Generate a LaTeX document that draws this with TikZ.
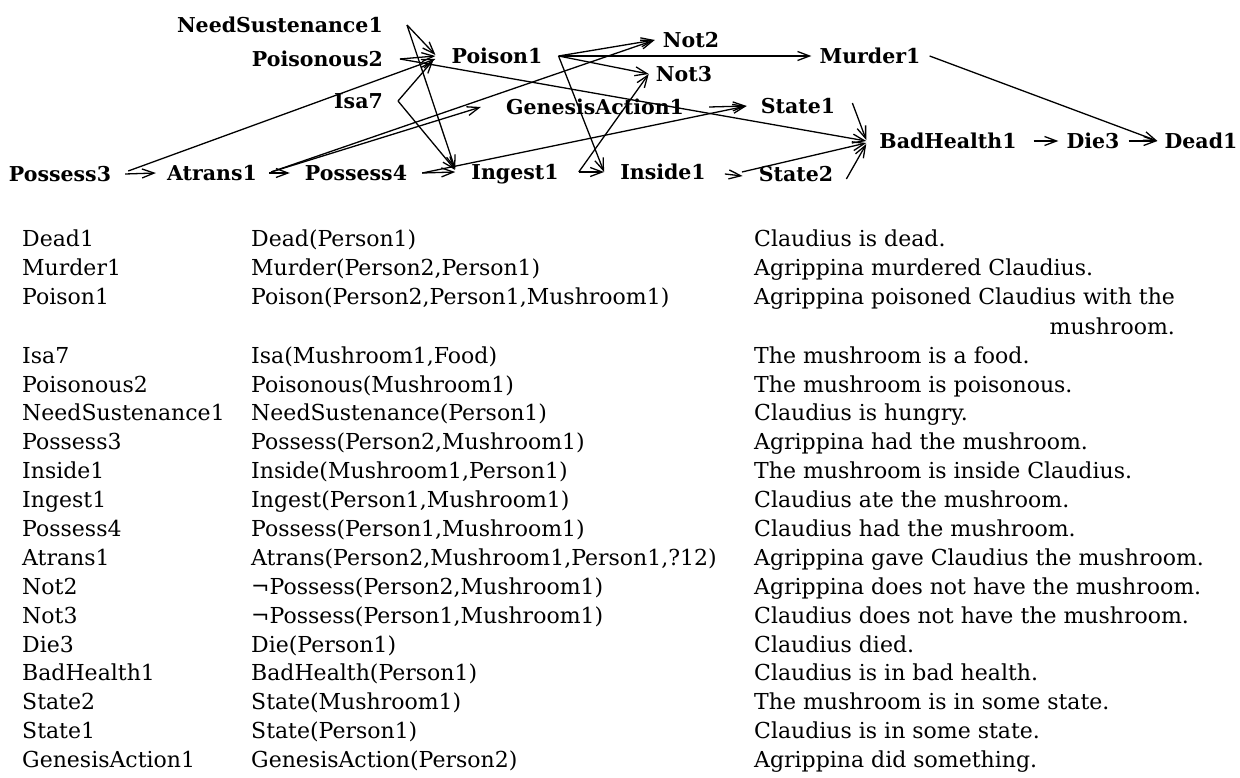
\documentclass[tikz,border=0pt]{standalone}
\usepackage{fontspec}
\setmainfont{DejaVu Serif}
\usetikzlibrary{arrows.meta}
\begin{document}
\begin{tikzpicture}[x=1pt,y=-1pt,
  lbl/.style={font=\fontsize{20.5}{24}\selectfont\bfseries, inner sep=0pt,
    text height=15pt, text depth=0pt},
  cell/.style={font=\fontsize{22}{26}\selectfont, inner sep=0pt, anchor=base west},
  arr/.style={-{Straight Barb[length=12pt,width=9pt]}, line width=1.3pt}
]
\useasboundingbox (0,0) rectangle (1240,778);

% ---- network of propositions ----
\node[lbl, anchor=east] (NS)  at (383,25)  {NeedSustenance1};
\node[lbl, anchor=east] (P2)  at (383,59)  {Poisonous2};
\node[lbl, anchor=east] (Isa) at (383,101) {Isa7};
\node[lbl] (Poi)  at (497,56)  {Poison1};
\node[lbl] (N2)   at (691,40)  {Not2};
\node[lbl] (N3)   at (684,74)  {Not3};
\node[lbl] (Mur)  at (870,56)  {Murder1};
\node[lbl] (GA)   at (595,107) {GenesisAction1};
\node[lbl] (S1)   at (798,106) {State1};
\node[lbl] (BH)   at (948,141) {BadHealth1};
\node[lbl] (Die)  at (1093,141) {Die3};
\node[lbl] (Dead) at (1201,141) {Dead1};
\node[lbl] (Ps3)  at (60,174)  {Possess3};
\node[lbl] (At)   at (212,173) {Atrans1};
\node[lbl] (Ps4)  at (356,173) {Possess4};
\node[lbl] (Ing)  at (515,172) {Ingest1};
\node[lbl] (Ins)  at (663,172) {Inside1};
\node[lbl] (S2)   at (796,174) {State2};

% connectors: each leaves to the right of its source label and ends left of its target
\draw[arr] ([xshift=24pt]NS.east) -- ([xshift=-16pt,yshift=1pt]Poi.west);
\draw[arr] ([xshift=24pt]NS.east) -- ([xshift=-16pt,yshift=3pt]Ing.west);
\draw[arr] ([xshift=17pt]P2.east) -- ([xshift=-16pt]Poi.west);
\draw[arr] ([xshift=17pt]P2.east) -- ([xshift=-13pt]BH.west);
\draw[arr] ([xshift=15pt]Isa.east) -- ([xshift=-18pt,yshift=-4pt]Poi.west);
\draw[arr] ([xshift=15pt]Isa.east) -- ([xshift=-16pt,yshift=2pt]Ing.west);
\draw[arr] ([xshift=14pt]Ps3.east) -- ([xshift=-11pt]At.west);
\draw[arr] ([xshift=17pt,yshift=3pt]Ps3.east) -- ([xshift=-16pt,yshift=-3pt]Poi.west);
\draw[arr] ([xshift=12pt]At.east) -- ([xshift=-15pt]Ps4.west);
\draw[arr] ([xshift=14pt,yshift=1pt]At.east) -- ([xshift=-25pt]GA.west);
\draw[arr] ([xshift=14pt,yshift=1pt]At.east) -- ([xshift=-8pt]N2.west);
\draw[arr] ([xshift=15pt]Ps4.east) -- ([xshift=-16pt]Ing.west);
\draw[arr] ([xshift=15pt]Ps4.east) -- ([xshift=-14pt]S1.west);
\draw[arr] ([xshift=16pt]Poi.east) -- ([xshift=-8pt]N2.west);
\draw[arr] ([xshift=16pt]Poi.east) -- ([xshift=-7pt]N3.west);
\draw[arr] ([xshift=16pt]Poi.east) -- ([xshift=-8pt]Mur.west);
\draw[arr] ([xshift=16pt]Poi.east) -- ([xshift=-16pt]Ins.west);
\draw[arr] ([xshift=20pt]Ing.east) -- ([xshift=-7pt]N3.west);
\draw[arr] ([xshift=20pt]Ing.east) -- ([xshift=-16pt]Ins.west);
\draw[arr] ([xshift=25pt]GA.east) -- ([xshift=-14pt]S1.west);
\draw[arr] ([xshift=19pt,yshift=-2pt]Ins.east) -- ([xshift=-16pt,yshift=-2pt]S2.west);
\draw[arr] ([xshift=36pt]Ins.east) -- ([xshift=-13pt,yshift=-2pt]BH.west);
\draw[arr] ([xshift=17pt,yshift=3pt]S1.east) -- ([xshift=-13pt,yshift=1pt]BH.west);
\draw[arr] ([xshift=13pt,yshift=-5pt]S2.east) -- ([xshift=-13pt,yshift=-3pt]BH.west);
\draw[arr] ([xshift=17pt]BH.east) -- ([xshift=-8pt]Die.west);
\draw[arr] ([xshift=9pt]Die.east) -- ([xshift=-7pt]Dead.west);
\draw[arr] ([xshift=9pt]Mur.east) -- ([xshift=-7pt]Dead.west);

% ---- table: name, proposition, English gloss ----
\node[cell] (a0)  at (22,247) {Dead1};
\node[cell] (b0)  at (251,247) {Dead(Person1)};
\node[cell] (c0)  at (754,247) {Claudius is dead.};
\node[cell] (a1)  at (22,276) {Murder1};
\node[cell] (b1)  at (251,276) {Murder(Person2,Person1)};
\node[cell] (c1)  at (754,276) {Agrippina murdered Claudius.};
\node[cell] (a2)  at (22,305) {Poison1};
\node[cell] (b2)  at (251,305) {Poison(Person2,Person1,Mushroom1)};
\node[cell] (c2)  at (754,305) {Agrippina poisoned Claudius with the};
\node[cell, anchor=base east] (c3) at (c2.base east |- 0,334) {mushroom.};
\node[cell] (a4)  at (22,363) {Isa7};
\node[cell] (b4)  at (251,363) {Isa(Mushroom1,Food)};
\node[cell] (c4)  at (754,363) {The mushroom is a food.};
\node[cell] (a5)  at (22,392) {Poisonous2};
\node[cell] (b5)  at (251,392) {Poisonous(Mushroom1)};
\node[cell] (c5)  at (754,392) {The mushroom is poisonous.};
\node[cell] (a6)  at (22,420) {NeedSustenance1};
\node[cell] (b6)  at (251,420) {NeedSustenance(Person1)};
\node[cell] (c6)  at (754,420) {Claudius is hungry.};
\node[cell] (a7)  at (22,449) {Possess3};
\node[cell] (b7)  at (251,449) {Possess(Person2,Mushroom1)};
\node[cell] (c7)  at (754,449) {Agrippina had the mushroom.};
\node[cell] (a8)  at (22,478) {Inside1};
\node[cell] (b8)  at (251,478) {Inside(Mushroom1,Person1)};
\node[cell] (c8)  at (754,478) {The mushroom is inside Claudius.};
\node[cell] (a9)  at (22,507) {Ingest1};
\node[cell] (b9)  at (251,507) {Ingest(Person1,Mushroom1)};
\node[cell] (c9)  at (754,507) {Claudius ate the mushroom.};
\node[cell] (a10) at (22,536) {Possess4};
\node[cell] (b10) at (251,536) {Possess(Person1,Mushroom1)};
\node[cell] (c10) at (754,536) {Claudius had the mushroom.};
\node[cell] (a11) at (22,565) {Atrans1};
\node[cell] (b11) at (251,565) {Atrans(Person2,Mushroom1,Person1,?12)};
\node[cell] (c11) at (754,565) {Agrippina gave Claudius the mushroom.};
\node[cell] (a12) at (22,594) {Not2};
\node[cell] (b12) at (251,594) {¬Possess(Person2,Mushroom1)};
\node[cell] (c12) at (754,594) {Agrippina does not have the mushroom.};
\node[cell] (a13) at (22,623) {Not3};
\node[cell] (b13) at (251,623) {¬Possess(Person1,Mushroom1)};
\node[cell] (c13) at (754,623) {Claudius does not have the mushroom.};
\node[cell] (a14) at (22,652) {Die3};
\node[cell] (b14) at (251,652) {Die(Person1)};
\node[cell] (c14) at (754,652) {Claudius died.};
\node[cell] (a15) at (22,680) {BadHealth1};
\node[cell] (b15) at (251,680) {BadHealth(Person1)};
\node[cell] (c15) at (754,680) {Claudius is in bad health.};
\node[cell] (a16) at (22,709) {State2};
\node[cell] (b16) at (251,709) {State(Mushroom1)};
\node[cell] (c16) at (754,709) {The mushroom is in some state.};
\node[cell] (a17) at (22,738) {State1};
\node[cell] (b17) at (251,738) {State(Person1)};
\node[cell] (c17) at (754,738) {Claudius is in some state.};
\node[cell] (a18) at (22,767) {GenesisAction1};
\node[cell] (b18) at (251,767) {GenesisAction(Person2)};
\node[cell] (c18) at (754,767) {Agrippina did something.};
\end{tikzpicture}
\end{document}
